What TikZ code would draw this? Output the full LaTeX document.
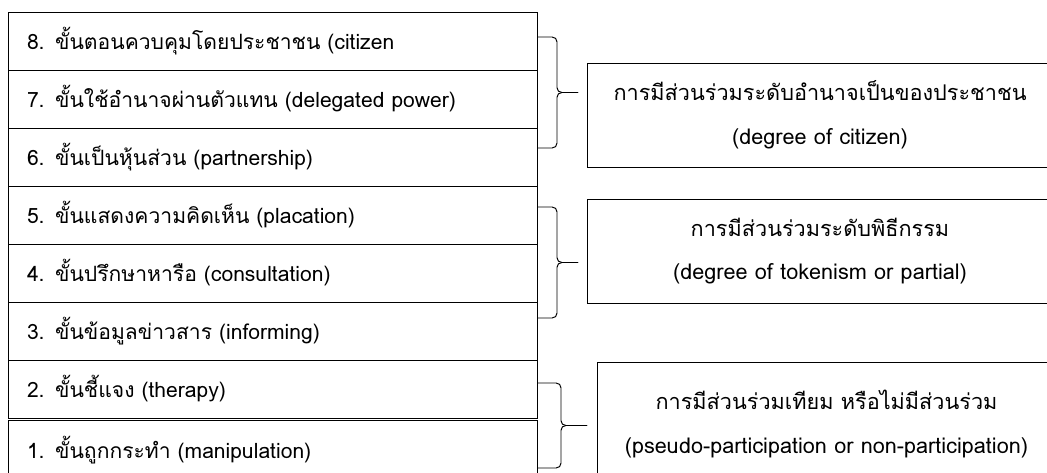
\documentclass[tikz,border=0pt]{standalone}
\usepackage{fontspec}
\setmainfont[Script=Thai]{Loma}
\usetikzlibrary{positioning}

\tikzset{
  rung/.style={draw, rectangle, line width=0.7pt, outer sep=0pt,
    minimum width=13.225cm, minimum height=1.45cm, text width=12.275cm,
    inner xsep=0.475cm, inner ysep=0pt, align=left,
    font=\fontsize{15}{18}\selectfont},
  levelbox/.style={draw, rectangle, line width=0.7pt, outer sep=0pt,
    minimum width=11.65cm, minimum height=2.6cm, align=center,
    font=\fontsize{15.4}{31}\selectfont},
  grpbrace/.style={line width=0.7pt, rounded corners=0.12cm}
}

\begin{document}
\begin{tikzpicture}
	    \useasboundingbox (0,0) rectangle (26.175,11.8);
	    % ladder, rung 8 on top
	    \node[rung, anchor=north west] (r8) at (0.2,11.5) {8. ขั้นตอนควบคุมโดยประชาชน (citizen};
	    \node[rung, below=0pt of r8] (r7) {7. ขั้นใช้อำนาจผ่านตัวแทน (delegated power)};
	    \node[rung, below=0pt of r7] (r6) {6. ขั้นเป็นหุ้นส่วน (partnership)};
	    \node[rung, below=0pt of r6] (r5) {5. ขั้นแสดงความคิดเห็น (placation)};
	    \node[rung, below=0pt of r5] (r4) {4. ขั้นปรึกษาหารือ (consultation)};
	    \node[rung, below=0pt of r4] (r3) {3. ขั้นข้อมูลข่าวสาร (informing)};
	    \node[rung, below=0pt of r3] (r2) {2. ขั้นชี้แจง (therapy)};
	    \node[rung, below=0.07cm of r2] (r1) {1. ขั้นถูกกระทำ (manipulation)};
	    % level boxes
	    \node[levelbox, anchor=north west] (lvA) at (14.675,10.225) {การมีส่วนร่วมระดับอำนาจเป็นของประชาชน\\(degree of citizen)};
	    \node[levelbox, anchor=north west] (lvB) at (14.675,6.825) {การมีส่วนร่วมระดับพิธีกรรม\\(degree of tokenism or partial)};
	    \node[levelbox, anchor=north west, minimum width=11.475cm, minimum height=3.1cm] (lvC) at (14.925,2.75) {การมีส่วนร่วมเทียม หรือไม่มีส่วนร่วม\\(pseudo-participation or non-participation)};
	    % brace ends and tips
	    \coordinate (u1) at (13.425,10.875);
	    \coordinate (l1) at (13.425,8.1);
	    \coordinate (p1) at (14.45,9.4875);
	    \coordinate (u2) at (13.425,6.625);
	    \coordinate (l2) at (13.425,3.85);
	    \coordinate (p2) at (14.45,5.2375);
	    \coordinate (u3) at (13.425,2.225);
	    \coordinate (l3) at (13.425,0.1);
	    \coordinate (p3) at (14.675,1.1625);
	    % braces
	    \draw[grpbrace] (p1) -- ++(-0.525,0) |- (u1);
	    \draw[grpbrace] (p1) -- ++(-0.525,0) |- (l1);
	    \draw[grpbrace] (p2) -- ++(-0.525,0) |- (u2);
	    \draw[grpbrace] (p2) -- ++(-0.525,0) |- (l2);
	    \draw[grpbrace] (p3) -- ++(-0.65,0) |- (u3);
	    \draw[grpbrace] (p3) -- ++(-0.65,0) |- (l3);
\end{tikzpicture}
\end{document}
